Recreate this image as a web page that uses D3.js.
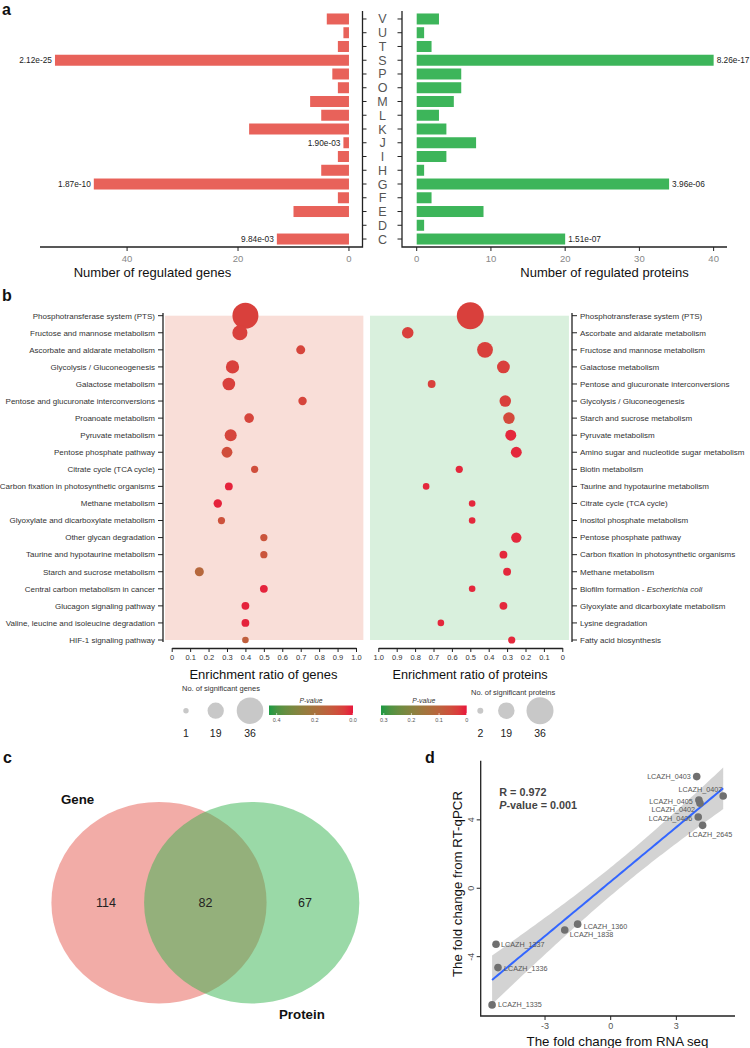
<!DOCTYPE html>
<html>
<head>
<meta charset="utf-8">
<script src="https://cdn.jsdelivr.net/npm/d3@7"></script>
<style>
  body { margin: 0; background: #fff; }
  svg { font-family: "Liberation Sans", Arial, sans-serif; display: block; }
</style>
</head>
<body>
<div id="chart"></div>
<script>
// ---- panel a data (COG categories)
var cogLetters = ["V","U","T","S","P","O","M","L","K","J","I","H","G","F","E","D","C"];
var geneCounts = [4,1,2,53,3,2,7,5,18,1,2,5,46,2,10,0,13];
var proteinCounts = [3,1,2,40,6,6,5,3,4,8,4,1,34,2,9,1,20];
var geneLabelCats = ["S","J","G","C"];
var geneLabelText = ["2.12e-25","1.90e-03","1.87e-10","9.84e-03"];
var protLabelCats = ["S","G","C"];
var protLabelText = ["8.26e-17","3.96e-06","1.51e-07"];
var geneTicks = [0,20,40];
var protTicks = [0,10,20,30,40];

// ---- panel b data (KEGG enrichment)
var genePathways = ["Phosphotransferase system (PTS)","Fructose and mannose metabolism","Ascorbate and aldarate metabolism",
  "Glycolysis / Gluconeogenesis","Galactose metabolism","Pentose and glucuronate interconversions","Proanoate metabolism",
  "Pyruvate metabolism","Pentose phosphate pathway","Citrate cycle (TCA cycle)","Carbon fixation in photosynthetic organisms",
  "Methane metabolism","Glyoxylate and dicarboxylate metabolism","Other glycan degradation","Taurine and hypotaurine metabolism",
  "Starch and sucrose metabolism","Central carbon metabolism in cancer","Glucagon signaling pathway",
  "Valine, leucine and isoleucine degradation","HIF-1 signaling pathway"];
var geneRatio = [0.40,0.37,0.70,0.33,0.31,0.71,0.42,0.32,0.30,0.45,0.31,0.25,0.27,0.50,0.50,0.15,0.50,0.40,0.40,0.40];
var geneSig =   [35,17,7,14,13,6,8,12,10,4,5,6,4,4,4,7,5,5,5,3];
var genePval =  [0.05,0.05,0.06,0.05,0.05,0.06,0.06,0.06,0.08,0.08,0.01,0.01,0.09,0.10,0.10,0.16,0.01,0.01,0.01,0.13];

var protPathways = ["Phosphotransferase system (PTS)","Ascorbate and aldarate metabolism","Fructose and mannose metabolism",
  "Galactose metabolism","Pentose and glucuronate interconversions","Glycolysis / Gluconeogenesis","Starch and sucrose metabolism",
  "Pyruvate metabolism","Amino sugar and nucleotide sugar metabolism","Biotin metabolism","Taurine and hypotaurine metabolism",
  "Citrate cycle (TCA cycle)","Inositol phosphate metabolism","Pentose phosphate pathway","Carbon fixation in photosynthetic organisms",
  "Methane metabolism","Biofilm formation - Escherichia coli","Glyoxylate and dicarboxylate metabolism","Lysine degradation",
  "Fatty acid biosynthesis"];
var protRatio = [0.50,0.84,0.42,0.32,0.71,0.31,0.29,0.28,0.25,0.56,0.74,0.49,0.49,0.25,0.32,0.30,0.49,0.32,0.66,0.275];
var protSig =   [36,11,18,13,5,11,11,10,10,4,3,3,3,9,5,5,3,5,3,4];
var protPval =  [0.035,0.035,0.035,0.035,0.035,0.035,0.05,0.01,0.01,0.01,0.01,0.01,0.01,0.01,0.01,0.01,0.01,0.01,0.01,0.01];

var geneSizeLegend = [1,19,36];
var protSizeLegend = [2,19,36];
var genePTicks = [0.4,0.2,0.0];
var protPTicks = [0.3,0.2,0.1,0];

// ---- panel c data (Venn)
var vennSets = ["Gene","Protein"];
var vennCounts = [114,82,67];

// ---- panel d data (RNA-seq vs RT-qPCR)
var qGenes = ["LCAZH_0403","LCAZH_0407","LCAZH_0405","LCAZH_0402","LCAZH_0406","LCAZH_2645",
              "LCAZH_1360","LCAZH_1838","LCAZH_1337","LCAZH_1336","LCAZH_1335"];
var rnaFC =  [3.93,5.14,4.03,4.08,4.00,4.20,-1.51,-2.10,-5.24,-5.15,-5.42];
var qpcrFC = [6.53,5.40,5.16,4.97,4.17,3.68,-2.10,-2.44,-3.27,-4.64,-6.82];
// label nudges (px) for the repelled gene names
var qLabelDx = [-6,-1,-6,-5,-6,-14,6,5,5,6,6];
var qLabelDy = [0,-6,1,6,2,9,2,4.5,0,0.6,0];
var qLabelAnchor = ["end","end","end","end","end","start","start","start","start","start","start"];
var dXTicks = [-3,0,3];
var dYTicks = [-4,0,4];

var W = 750, H = 1048;
var svg = d3.select("#chart").append("svg")
    .attr("width", W).attr("height", H)
    .attr("viewBox", "0 0 " + W + " " + H);

function panelLabel(t, x, y) {
  svg.append("text").attr("x", x).attr("y", y).text(t)
    .attr("font-size", 16).attr("font-weight", "bold").attr("fill", "#111");
}

// ================= panel a =================
panelLabel("a", 2, 15);

var yA = d3.scaleBand().domain(cogLetters).range([12.1, 245.9]).paddingInner(0.2).paddingOuter(0.1);
var xL = d3.scaleLinear().domain([-2.35, 55.7]).range([362, 40]);
var xR = d3.scaleLinear().domain([-1.98, 41.8]).range([402, 727]);
var baseA = 247;

var gA = svg.append("g");

gA.selectAll(".gbar").data(cogLetters).enter().append("rect")
  .attr("x", function(d, i){ return xL(geneCounts[i]); })
  .attr("y", function(d){ return yA(d); })
  .attr("width", function(d, i){ return xL(0) - xL(geneCounts[i]); })
  .attr("height", yA.bandwidth())
  .attr("fill", "#e8625a");

gA.selectAll(".pbar").data(cogLetters).enter().append("rect")
  .attr("x", xR(0))
  .attr("y", function(d){ return yA(d); })
  .attr("width", function(d, i){ return xR(proteinCounts[i]) - xR(0); })
  .attr("height", yA.bandwidth())
  .attr("fill", "#3db55a");

// axes lines
gA.append("path").attr("d", "M40," + baseA + "H362.5V11").attr("fill", "none").attr("stroke", "#222").attr("stroke-width", 1.3);
gA.append("path").attr("d", "M402,11V" + baseA + "H727").attr("fill", "none").attr("stroke", "#222").attr("stroke-width", 1.3);

cogLetters.forEach(function(c){
  var cy = yA(c) + yA.bandwidth() / 2;
  gA.append("line").attr("x1", 362).attr("x2", 366.5).attr("y1", cy).attr("y2", cy).attr("stroke", "#222");
  gA.append("line").attr("x1", 397.5).attr("x2", 402).attr("y1", cy).attr("y2", cy).attr("stroke", "#222");
  gA.append("text").attr("x", 382.5).attr("y", cy).attr("dy", "0.36em").attr("text-anchor", "middle")
    .attr("font-size", 12.5).attr("fill", "#555").text(c);
});

geneTicks.forEach(function(t){
  gA.append("line").attr("x1", xL(t)).attr("x2", xL(t)).attr("y1", baseA).attr("y2", baseA + 4).attr("stroke", "#222");
  gA.append("text").attr("x", xL(t)).attr("y", baseA + 14.5).attr("text-anchor", "middle")
    .attr("font-size", 9.5).attr("fill", "#888").text(t);
});
protTicks.forEach(function(t){
  gA.append("line").attr("x1", xR(t)).attr("x2", xR(t)).attr("y1", baseA).attr("y2", baseA + 4).attr("stroke", "#222");
  gA.append("text").attr("x", xR(t)).attr("y", baseA + 14.5).attr("text-anchor", "middle")
    .attr("font-size", 9.5).attr("fill", "#888").text(t);
});

geneLabelCats.forEach(function(c, i){
  var v = geneCounts[cogLetters.indexOf(c)];
  gA.append("text").attr("x", xL(v) - 3).attr("y", yA(c) + yA.bandwidth() / 2).attr("dy", "0.35em")
    .attr("text-anchor", "end").attr("font-size", 8.3).attr("fill", "#222").text(geneLabelText[i]);
});
protLabelCats.forEach(function(c, i){
  var v = proteinCounts[cogLetters.indexOf(c)];
  gA.append("text").attr("x", xR(v) + 3).attr("y", yA(c) + yA.bandwidth() / 2).attr("dy", "0.35em")
    .attr("text-anchor", "start").attr("font-size", 8.3).attr("fill", "#222").text(protLabelText[i]);
});

gA.append("text").attr("x", 152.5).attr("y", 276.5).attr("text-anchor", "middle").attr("font-size", 13)
  .attr("fill", "#111").text("Number of regulated genes");
gA.append("text").attr("x", 604.5).attr("y", 276.5).attr("text-anchor", "middle").attr("font-size", 13)
  .attr("fill", "#111").text("Number of regulated proteins");

// ================= panel b =================
panelLabel("b", 2, 301);

var yB1 = d3.scalePoint().domain(genePathways).range([315.7, 640]);
var yB2 = d3.scalePoint().domain(protPathways).range([315.7, 640]);
var xB1 = d3.scaleLinear().domain([0, 1]).range([171.7, 356]);
var xB2 = d3.scaleLinear().domain([0, 1]).range([562.3, 378.3]);
var rB1 = d3.scaleLinear().domain([1, 36]).range([2.7, 13.3]);
var rB2 = d3.scaleLinear().domain([2, 36]).range([3, 13.5]);
var colLow = "#e8173c", colHigh = "#1c9a43";
var cB1 = d3.scaleLinear().domain([0, 0.44]).range([colLow, colHigh]).interpolate(d3.interpolateLab).clamp(true);
var cB2 = d3.scaleLinear().domain([0, 0.31]).range([colLow, colHigh]).interpolate(d3.interpolateLab).clamp(true);

var gB = svg.append("g");

gB.append("rect").attr("x", xB1(-0.036)).attr("y", yB1(genePathways[0]))
  .attr("width", xB1(1.04) - xB1(-0.036)).attr("height", yB1(genePathways[19]) - yB1(genePathways[0]))
  .attr("fill", "#f9ded8");
gB.append("rect").attr("x", xB2(1.045)).attr("y", yB2(protPathways[0]))
  .attr("width", xB2(-0.036) - xB2(1.045)).attr("height", yB2(protPathways[19]) - yB2(protPathways[0]))
  .attr("fill", "#d9f0dd");

// y axis lines
gB.append("line").attr("x1", 163).attr("x2", 163).attr("y1", 313).attr("y2", 642).attr("stroke", "#222").attr("stroke-width", 1.3);
gB.append("line").attr("x1", 572).attr("x2", 572).attr("y1", 313).attr("y2", 642).attr("stroke", "#222").attr("stroke-width", 1.3);

genePathways.forEach(function(p){
  var cy = yB1(p);
  gB.append("line").attr("x1", 158).attr("x2", 163).attr("y1", cy).attr("y2", cy).attr("stroke", "#222");
  gB.append("text").attr("x", 155).attr("y", cy).attr("dy", "0.35em").attr("text-anchor", "end")
    .attr("font-size", 8).attr("fill", "#333").text(p);
});
protPathways.forEach(function(p){
  var cy = yB2(p);
  gB.append("line").attr("x1", 572).attr("x2", 577).attr("y1", cy).attr("y2", cy).attr("stroke", "#222");
  var t = gB.append("text").attr("x", 580).attr("y", cy).attr("dy", "0.35em").attr("text-anchor", "start")
    .attr("font-size", 8).attr("fill", "#333");
  if (p.indexOf("Escherichia") > -1) {
    t.append("tspan").text("Biofilm formation - ");
    t.append("tspan").attr("font-style", "italic").text("Escherichia coli");
  } else {
    t.text(p);
  }
});

gB.selectAll(".gdot").data(genePathways).enter().append("circle")
  .attr("cx", function(d, i){ return xB1(geneRatio[i]); })
  .attr("cy", function(d){ return yB1(d); })
  .attr("r", function(d, i){ return rB1(geneSig[i]); })
  .attr("fill", function(d, i){ return cB1(genePval[i]); });

gB.selectAll(".pdot").data(protPathways).enter().append("circle")
  .attr("cx", function(d, i){ return xB2(protRatio[i]); })
  .attr("cy", function(d){ return yB2(d); })
  .attr("r", function(d, i){ return rB2(protSig[i]); })
  .attr("fill", function(d, i){ return cB2(protPval[i]); });

var ratioTicks = d3.range(0, 11).map(function(d){ return d / 10; });
var ratioFmt = function(d){ return d === 0 ? "0" : d3.format(".1f")(d); };
[xB1, xB2].forEach(function(sc){
  var ax = gB.append("g").attr("transform", "translate(0,648)")
    .call(d3.axisBottom(sc).tickValues(ratioTicks).tickFormat(ratioFmt).tickSize(4).tickSizeOuter(0));
  ax.select(".domain").attr("stroke", "#222").attr("stroke-width", 1.3);
  ax.selectAll(".tick line").attr("stroke", "#222");
  ax.selectAll(".tick text").attr("font-size", 7.5).attr("fill", "#333").attr("font-family", "Liberation Sans, Arial, sans-serif").attr("dy", "0.6em");
});

gB.append("text").attr("x", 263.5).attr("y", 678.5).attr("text-anchor", "middle").attr("font-size", 13)
  .attr("fill", "#111").text("Enrichment ratio of genes");
gB.append("text").attr("x", 470).attr("y", 678.5).attr("text-anchor", "middle").attr("font-size", 12.7)
  .attr("fill", "#111").text("Enrichment ratio of proteins");

// size legends
function sizeLegend(title, tx, ty, vals, xs, rScale) {
  gB.append("text").attr("x", tx).attr("y", ty).attr("font-size", 7.5).attr("fill", "#333").text(title);
  vals.forEach(function(v, i){
    gB.append("circle").attr("cx", xs[i]).attr("cy", 710.7).attr("r", rScale(v)).attr("fill", "#c8c8c8");
    gB.append("text").attr("x", xs[i]).attr("y", 737).attr("text-anchor", "middle")
      .attr("font-size", 10.5).attr("fill", "#222").text(v);
  });
}
sizeLegend("No. of significant genes", 182, 691, geneSizeLegend, [186, 215.7, 250], rB1);
sizeLegend("No. of significant proteins", 471, 695, protSizeLegend, [480.3, 506.3, 540], rB2);

// colour bars
var defs = svg.append("defs");
function colorBar(id, x0, x1, cScale, dom, ticks) {
  var grad = defs.append("linearGradient").attr("id", id).attr("x1", "0%").attr("x2", "100%");
  d3.range(0, 11).forEach(function(k){
    var p = dom[0] + (dom[1] - dom[0]) * k / 10;
    grad.append("stop").attr("offset", (k * 10) + "%").attr("stop-color", cScale(p));
  });
  var sc = d3.scaleLinear().domain(dom).range([x0, x1]);
  gB.append("rect").attr("x", x0).attr("y", 705.5).attr("width", x1 - x0).attr("height", 9.5)
    .attr("fill", "url(#" + id + ")");
  gB.append("text").attr("x", (x0 + x1) / 2).attr("y", 702.5).attr("text-anchor", "middle")
    .attr("font-size", 6.8).attr("font-style", "italic").attr("fill", "#333").text("P-value");
  ticks.forEach(function(t){
    gB.append("line").attr("x1", sc(t)).attr("x2", sc(t)).attr("y1", 713).attr("y2", 715).attr("stroke", "#fff").attr("stroke-width", 0.6);
    gB.append("text").attr("x", sc(t)).attr("y", 721.5).attr("text-anchor", "middle")
      .attr("font-size", 5.5).attr("fill", "#555").text(t === 0 && ticks.length === 3 ? "0.0" : t === 0 ? "0" : d3.format(".1f")(t));
  });
}
colorBar("pgradG", 269, 353, cB1, [0.44, 0], genePTicks);
colorBar("pgradP", 381, 466.7, cB2, [0.31, 0], protPTicks);

// ================= panel c =================
panelLabel("c", 3, 763);
var gC = svg.append("g");
var vennCx = [159, 251.7], vennCy = 902.7, vennRx = 107.6, vennRy = 100.8;
var vennFill = ["#e65a50", "#35b44f"];
vennSets.forEach(function(s, i){
  gC.append("ellipse").attr("cx", vennCx[i]).attr("cy", vennCy).attr("rx", vennRx).attr("ry", vennRy)
    .attr("fill", vennFill[i]).attr("fill-opacity", 0.5);
});
var vennNumX = [106, 205.5, 305];
vennCounts.forEach(function(v, i){
  gC.append("text").attr("x", vennNumX[i]).attr("y", vennCy).attr("dy", "0.36em").attr("text-anchor", "middle")
    .attr("font-size", 12.5).attr("fill", "#222").text(v);
});
gC.append("text").attr("x", 61).attr("y", 804).attr("font-size", 13.3).attr("font-weight", "bold").attr("fill", "#111").text(vennSets[0]);
gC.append("text").attr("x", 279).attr("y", 1019).attr("font-size", 13.3).attr("font-weight", "bold").attr("fill", "#111").text(vennSets[1]);

// ================= panel d =================
panelLabel("d", 425, 763);
var gD = svg.append("g");
var xD = d3.scaleLinear().domain([-5.94, 5.68]).range([480.7, 735]);
var yD = d3.scaleLinear().domain([-7.47, 7.46]).range([1016, 760.7]);

// least-squares fit with 95% band
var n = rnaFC.length;
var mx = d3.mean(rnaFC), my = d3.mean(qpcrFC);
var sxx = d3.sum(rnaFC, function(x){ return (x - mx) * (x - mx); });
var sxy = d3.sum(rnaFC, function(x, i){ return (x - mx) * (qpcrFC[i] - my); });
var slope = sxy / sxx, icpt = my - slope * mx;
var sse = d3.sum(rnaFC, function(x, i){ var e = qpcrFC[i] - (icpt + slope * x); return e * e; });
var sRes = Math.sqrt(sse / (n - 2)), tCrit = 2.262;
var xLo = d3.min(rnaFC), xHi = d3.max(rnaFC);
var bandX = d3.range(0, 81).map(function(k){ return xLo + (xHi - xLo) * k / 80; });
var bandPts = bandX.map(function(x){
  var fit = icpt + slope * x;
  var se = sRes * Math.sqrt(1 / n + (x - mx) * (x - mx) / sxx);
  return {x: x, lo: fit - tCrit * se, hi: fit + tCrit * se, fit: fit};
});
gD.append("path").datum(bandPts)
  .attr("d", d3.area().x(function(d){ return xD(d.x); }).y0(function(d){ return yD(d.lo); }).y1(function(d){ return yD(d.hi); }))
  .attr("fill", "#c4c4c4").attr("fill-opacity", 0.75);
gD.append("path").datum(bandPts)
  .attr("d", d3.line().x(function(d){ return xD(d.x); }).y(function(d){ return yD(d.fit); }))
  .attr("fill", "none").attr("stroke", "#3366ff").attr("stroke-width", 2);

gD.selectAll(".qpt").data(qGenes).enter().append("circle")
  .attr("cx", function(d, i){ return xD(rnaFC[i]); })
  .attr("cy", function(d, i){ return yD(qpcrFC[i]); })
  .attr("r", 3.8).attr("fill", "#707070");

gD.selectAll(".qlab").data(qGenes).enter().append("text")
  .attr("x", function(d, i){ return xD(rnaFC[i]) + qLabelDx[i]; })
  .attr("y", function(d, i){ return yD(qpcrFC[i]) + qLabelDy[i]; })
  .attr("dy", "0.35em")
  .attr("text-anchor", function(d, i){ return qLabelAnchor[i]; })
  .attr("font-size", 7.2).attr("fill", "#555").text(function(d){ return d; });

// axes
gD.append("path").attr("d", "M480.7,760.7V1016H735").attr("fill", "none").attr("stroke", "#222").attr("stroke-width", 1.3);
dXTicks.forEach(function(t){
  gD.append("line").attr("x1", xD(t)).attr("x2", xD(t)).attr("y1", 1016).attr("y2", 1020).attr("stroke", "#222");
  gD.append("text").attr("x", xD(t)).attr("y", 1028.5).attr("text-anchor", "middle").attr("font-size", 9)
    .attr("fill", "#555").text(t);
});
dYTicks.forEach(function(t){
  gD.append("line").attr("x1", 476.7).attr("x2", 480.7).attr("y1", yD(t)).attr("y2", yD(t)).attr("stroke", "#222");
  gD.append("text").attr("transform", "translate(474," + yD(t) + ") rotate(-90)").attr("text-anchor", "middle")
    .attr("font-size", 9).attr("fill", "#555").text(t);
});
gD.append("text").attr("x", 617.5).attr("y", 1046).attr("text-anchor", "middle").attr("font-size", 13.3)
  .attr("fill", "#111").text("The fold change from RNA seq");
gD.append("text").attr("transform", "translate(462,884) rotate(-90)").attr("text-anchor", "middle")
  .attr("font-size", 13.3).attr("fill", "#111").text("The fold change from RT-qPCR");

gD.append("text").attr("x", 499.3).attr("y", 795.5).attr("font-size", 10.8).attr("font-weight", "bold")
  .attr("fill", "#444").text("R = 0.972");
var pv = gD.append("text").attr("x", 499.3).attr("y", 809).attr("font-size", 10.8).attr("font-weight", "bold").attr("fill", "#444");
pv.append("tspan").attr("font-style", "italic").text("P");
pv.append("tspan").text("-value = 0.001");
</script>
</body>
</html>
